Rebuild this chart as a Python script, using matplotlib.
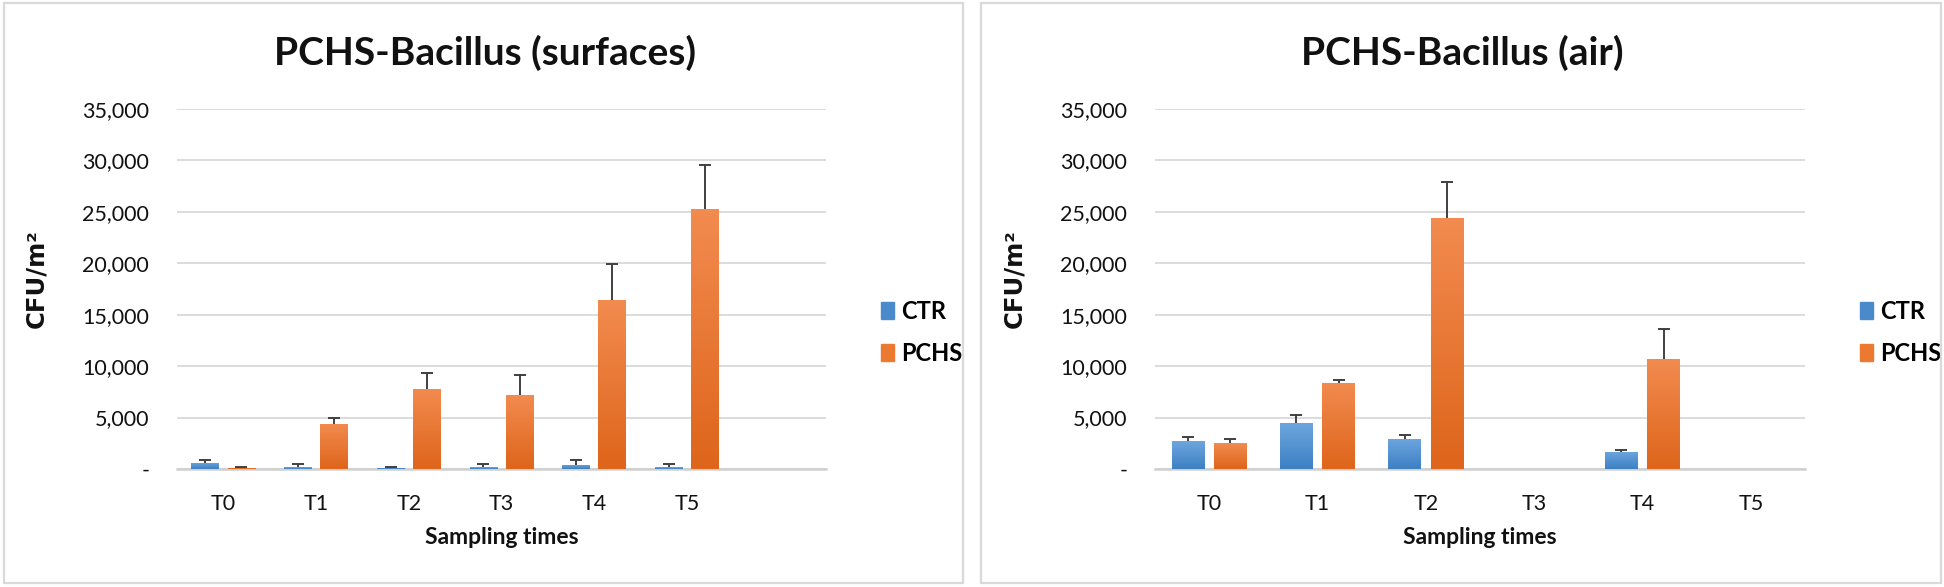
import numpy as np
import matplotlib
matplotlib.use("Agg")
import matplotlib.pyplot as plt
from matplotlib.colors import LinearSegmentedColormap
from matplotlib.patches import Rectangle
from matplotlib.ticker import FuncFormatter, MultipleLocator

# --- data (CFU/m2, mean and upper SD) ---
surf_times = ["T0", "T1", "T2", "T3", "T4", "T5"]
surf_ctr = [600, 150, 100, 150, 400, 150]
surf_ctr_err = [250, 300, 50, 350, 500, 350]
surf_pchs = [100, 4400, 7780, 7150, 16400, 25250]
surf_pchs_err = [50, 520, 1530, 2000, 3550, 4350]
surf_slots = 7  # excel range had one empty row at the end

air_times = ["T0", "T1", "T2", "T3", "T4", "T5"]
air_ctr = [2700, 4430, 2950, np.nan, 1700, np.nan]
air_ctr_err = [450, 800, 370, np.nan, 180, np.nan]
air_pchs = [2500, 8400, 24400, np.nan, 10700, np.nan]
air_pchs_err = [420, 220, 3550, np.nan, 2900, np.nan]
air_slots = 6

series_names = ["CTR", "PCHS"]

BLUE = ("#6DA6DE", "#3D80C4")
ORANGE = ("#F28B4F", "#DE651B")
GRID = "#D9D9D9"
TXT = "#111111"

FONT = ["Lato", "DejaVu Sans"]
plt.rcParams["font.family"] = FONT


def fmt(v, _pos):
    return "-" if v == 0 else f"{int(v):,}"


def gradient_bars(ax, x, h, width, cols):
    cmap = LinearSegmentedColormap.from_list("g", [cols[1], cols[0]])
    grad = np.linspace(0, 1, 64).reshape(-1, 1)
    bars = ax.bar(x, h, width, color=cols[1], edgecolor="none", zorder=2)
    for b in bars:
        hh = b.get_height()
        if not np.isfinite(hh) or hh <= 0:
            continue
        im = ax.imshow(grad, cmap=cmap, origin="lower", aspect="auto",
                       extent=[b.get_x(), b.get_x() + b.get_width(), 0, hh], zorder=3)
        im.set_clip_path(b)
    return bars


def panel(ax, title_x, title, times, ctr, ctr_err, pchs, pchs_err, slots):
    x = np.arange(len(times))
    w, off = 0.30, 0.195
    gradient_bars(ax, x - off, ctr, w, BLUE)
    gradient_bars(ax, x + off, pchs, w, ORANGE)
    for xs, v, e in ((x - off, ctr, ctr_err), (x + off, pchs, pchs_err)):
        v = np.asarray(v, float)
        e = np.asarray(e, float)
        _, caps, _ = ax.errorbar(xs, v, yerr=[np.zeros_like(e), e], fmt="none",
                                 ecolor="#404040", elinewidth=1.4, capsize=4,
                                 capthick=1.4, zorder=4)
        caps[0].set_visible(False)  # plus-direction only, like excel

    ax.set_xlim(-0.5, slots - 0.5)
    ax.set_ylim(0, 35000)
    ax.set_xticks(x)
    ax.set_xticklabels(times)
    ax.yaxis.set_major_locator(MultipleLocator(5000))
    ax.yaxis.set_major_formatter(FuncFormatter(fmt))
    ax.grid(axis="y", color=GRID, lw=1.3, zorder=0)
    ax.set_axisbelow(True)
    for s in ("top", "right", "left"):
        ax.spines[s].set_visible(False)
    ax.spines["bottom"].set_color("#D0D0D0")
    ax.spines["bottom"].set_linewidth(1.8)
    ax.tick_params(axis="both", length=0, labelsize=15.5, colors=TXT)
    ax.tick_params(axis="y", pad=20)
    ax.tick_params(axis="x", pad=18)

    ax.set_xlabel("Sampling times", fontsize=16.5, fontweight="bold", color=TXT)
    ax.xaxis.set_label_coords(0.5, -0.16)
    ax.set_ylabel("CFU/m²", fontsize=17.5, fontweight="bold", color=TXT,
                  family=["DejaVu Sans"])
    ax.yaxis.set_label_coords(-0.198, 0.53)

    handles = [Rectangle((0, 0), 1, 1, color=c) for c in ("#4A8ACB", "#EB7A30")]
    ax.legend(handles, series_names, loc="center left", bbox_to_anchor=(1.066, 0.38),
              frameon=False, borderpad=0, handlelength=0.55, handleheight=0.75,
              handletextpad=0.3, labelspacing=0.8,
              prop={"family": FONT, "weight": "bold", "size": 17})

    ax.figure.text(title_x, 0.91, title, ha="center", va="center",
                   fontsize=28, fontweight="bold", color=TXT)


fig = plt.figure(figsize=(19.44, 5.87), dpi=100)
W, H = 1944, 587

# panel frames
for x0, x1 in ((4, 963), (981, 1941)):
    fig.patches.append(Rectangle((x0 / W, 1 - 583 / H), (x1 - x0) / W, (583 - 3) / H,
                                 transform=fig.transFigure, fill=False,
                                 edgecolor="#D9D9D9", lw=1.6))

ax1 = fig.add_axes([177 / W, 1 - 469 / H, 649 / W, 360 / H])
ax2 = fig.add_axes([1155 / W, 1 - 469 / H, 650 / W, 360 / H])

panel(ax1, 485 / W, "PCHS-Bacillus (surfaces)", surf_times, surf_ctr, surf_ctr_err,
      surf_pchs, surf_pchs_err, surf_slots)
panel(ax2, 1462 / W, "PCHS-Bacillus (air)", air_times, air_ctr, air_ctr_err,
      air_pchs, air_pchs_err, air_slots)

fig.savefig("out.png", dpi=100, facecolor="white")
